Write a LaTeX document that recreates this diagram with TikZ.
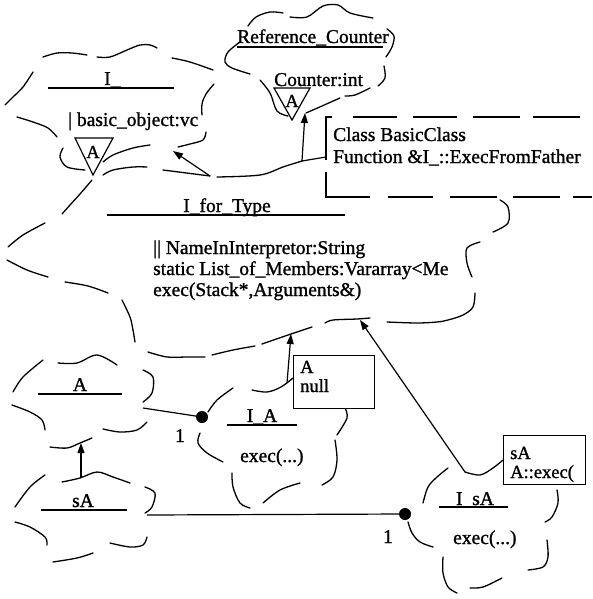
\documentclass[tikz,border=0pt]{standalone}
\usepackage{fontspec}
\setmainfont{Liberation Serif}[FakeBold=1.2]
\usetikzlibrary{arrows.meta}
% one wavy stroke of a class cloud
\newcommand\cseg[1]{\draw[cl] plot[smooth, tension=0.55] coordinates {#1};}
\begin{document}
\begin{tikzpicture}[x=1pt, y=-1pt,
  cl/.style={line width=1.3pt, line cap=round, line join=round},
  ul/.style={line width=1.1pt},
  nt/.style={line width=1.2pt},
  conn/.style={line width=1.2pt},
  arr/.style={line width=1.2pt, -{Triangle[length=10pt, width=7pt]}},
  lbl/.style={inner sep=0pt, font=\fontsize{19.5}{21}\selectfont},
  small/.style={inner sep=0pt, font=\fontsize{18.5}{20}\selectfont},
  tri/.style={line width=1.2pt, fill=white},
  boxst/.style={draw, line width=1.3pt, fill=white, inner sep=0pt},
  dot/.style={circle, fill=black, inner sep=0pt, minimum size=12pt}]
\useasboundingbox (0,0) rectangle (592,599);

% ---------- class I_ ----------
\cseg{(5,105) (13,97) (23,87) (33,72)}
\cseg{(43,57) (57,53) (72,53) (87,55)}
\cseg{(97,57) (110,57) (127,50) (140,45) (150,45) (157,48)}
\cseg{(172,58) (190,62) (213,70)}
\cseg{(214,84) (206,94) (202,104) (202,115)}
\cseg{(206,132) (203,140) (190,144) (178,147)}
\cseg{(150,145) (133,148) (113,155) (103,162)}
\cseg{(85,170) (67,167) (60,157) (63,148)}
\cseg{(57,137) (48,128) (33,122) (17,117)}
\draw[ul] (48,88) -- (174,88);
\node[lbl, anchor=base west] (iname) at (104,85) {I\_};
\node[lbl, anchor=base west] (iattr) at (68,126) {| basic\_object:vc};
\draw[tri] (75,138) -- (113,138) -- (93,175) -- cycle;
\node[small] (itri) at (93,152) {A};

% ---------- class Reference_Counter ----------
\cseg{(248,26) (256,17) (270,12) (283,13)}
\cseg{(290,17) (307,17) (323,6) (338,5) (350,13) (373,18)}
\cseg{(387,29) (394,36) (392,47) (386,57)}
\cseg{(384,66) (385,78) (378,86)}
\cseg{(370,88) (355,95) (345,96)}
\cseg{(340,98) (322,106) (306,113)}
\cseg{(240,42) (228,52) (225,62) (232,68) (250,74)}
\cseg{(260,80) (270,93) (277,111) (288,116)}
\draw[ul] (237,47) -- (383,47);
\node[lbl, anchor=base west] (rcname) at (237,43) {Reference\_Counter};
\node[lbl, anchor=base west] (rcattr) at (274,86) {Counter:int};
\draw[tri] (274,88) -- (310,88) -- (292,120) -- cycle;
\node[small] (rctri) at (292,101) {A};

% ---------- class I_for_Type ----------
\cseg{(103,175) (113,170) (133,167) (147,167)}
\cseg{(163,170) (210,176)}
\cseg{(217,177) (260,175) (283,167) (302,161)}
\cseg{(500,200) (508,207) (508,223) (493,232)}
\cseg{(480,242) (467,248) (467,263) (472,277)}
\cseg{(475,293) (473,307) (463,315) (448,320) (437,322) (417,323) (387,322)}
\cseg{(370,318) (357,319) (333,320) (325,323)}
\cseg{(312,327) (291,334) (262,344)}
\cseg{(255,346) (233,350) (212,355)}
\cseg{(205,357) (187,357) (167,357) (148,352)}
\cseg{(135,342) (133,330) (130,317) (122,300)}
\cseg{(108,293) (88,286) (65,282)}
\cseg{(48,277) (27,270) (7,260)}
\cseg{(8,247) (23,235) (45,223)}
\cseg{(62,214) (70,205) (80,194) (92,180)}
\draw[ul] (107,215) -- (345,215);
\node[lbl, anchor=base] (iftname) at (227,212) {I\_for\_Type};
\node[lbl, anchor=base west] (iftattr) at (153,254) {|| NameInInterpretor:String};
\node[lbl, anchor=base west] (iftmem) at (153,275) {static List\_of\_Members:Vararray<Me};
\node[lbl, anchor=base west] (iftop) at (153,296) {exec(Stack*,Arguments\&)};

% ---------- note on I_for_Type ----------
\draw[nt] (326,160) -- (326,117) -- (332,117);
\draw[nt] (353,117) -- (397,117);
\draw[nt] (413,117) -- (457,117);
\draw[nt] (473,117) -- (520,117);
\draw[nt] (533,117) -- (580,117);
\draw[nt] (326,172) -- (326,197) -- (370,197);
\draw[nt] (388,197) -- (433,197);
\draw[nt] (450,197) -- (497,197);
\draw[nt] (513,197) -- (560,197);
\draw[nt] (573,197) -- (592,197);
\node[lbl, anchor=base west] (note1) at (333,141) {Class BasicClass};
\node[lbl, anchor=base west] (note2) at (333,163) {Function \&I\_::ExecFromFather};
\coordinate (noteleft) at (326,157);

% ---------- class A ----------
\cseg{(13,392) (23,377) (43,360)}
\cseg{(58,363) (77,363) (97,355) (117,365)}
\cseg{(143,370) (153,377) (152,393) (143,402)}
\cseg{(147,422) (137,430) (120,432) (103,429)}
\cseg{(12,405) (30,412) (42,420) (45,430)}
\cseg{(50,447) (67,448) (80,443) (92,438)}
\draw[ul] (38,394) -- (122,394);
\node[lbl, anchor=base] (aname) at (80,391) {A};

% ---------- class sA ----------
\cseg{(15,507) (30,487) (45,475)}
\cseg{(62,482) (80,478) (97,472) (113,477) (130,483)}
\cseg{(145,487) (155,493) (152,507) (145,513)}
\cseg{(147,537) (143,545) (130,547) (110,543)}
\cseg{(93,553) (77,558) (53,562)}
\cseg{(15,522) (30,527) (45,537) (47,545)}
\draw[ul] (41,510) -- (127,510);
\node[lbl, anchor=base] (saname) at (83,507) {sA};

% ---------- class I_A ----------
\cseg{(208,412) (217,400) (233,388)}
\cseg{(252,390) (267,392) (281,387) (293,378)}
\cseg{(345,408) (347,418) (337,435)}
\cseg{(335,440) (337,460) (333,477) (322,485)}
\cseg{(300,483) (280,490) (263,503)}
\cseg{(250,508) (240,503) (233,487) (232,473)}
\cseg{(223,462) (207,453) (198,443) (200,433)}
\draw[ul] (227,425) -- (297,425);
\node[lbl, anchor=base] (ianame) at (262,422) {I\_A};
\node[lbl, anchor=base west] (iaop) at (240,462) {exec(...)};
\node[boxst, anchor=north west, minimum width=81pt, minimum height=53pt] (iabox) at (293,355) {};
\node[small, anchor=base west] (iabox1) at (300,373) {A};
\node[small, anchor=base west] (iabox2) at (300,392) {null};

% ---------- class I_sA ----------
\cseg{(408,522) (412,533) (420,542) (433,547)}
\cseg{(443,557) (443,573) (448,587) (457,593)}
\cseg{(470,588) (483,587) (502,578)}
\cseg{(528,570) (543,567) (548,557) (547,540)}
\cseg{(545,522) (552,517) (558,503) (557,490)}
\cseg{(423,503) (428,487) (437,477) (448,468)}
\cseg{(465,472) (480,475) (493,468) (503,460)}
\draw[ul] (439,507) -- (508,507);
\node[lbl, anchor=base] (isaname) at (475,505) {I\_sA};
\node[lbl, anchor=base west] (isaop) at (453,544) {exec(...)};
\node[boxst, anchor=north west, minimum width=82pt, minimum height=49pt] (isabox) at (503,435) {};
\node[small, anchor=base west] (isabox1) at (510,459) {sA};
\node[small, anchor=base west] (isabox2) at (510,478) {A::exec(};

% ---------- relations ----------
\coordinate (ift-topl) at (210,176);
\coordinate (i-bot) at (173,151);
\draw[arr] (ift-topl) -- (i-bot);

\coordinate (ift-topr) at (302,161);
\coordinate (rc-bot) at (305,113);
\draw[arr] (ift-topr) -- (rc-bot);
\draw[conn] (ift-topr) -- (noteleft);

\coordinate (ia-top) at (287,383);
\coordinate (ift-bot1) at (291,334);
\draw[arr] (ia-top) -- (ift-bot1);

\coordinate (isa-top) at (465,472);
\coordinate (ift-bot2) at (360,320);
\draw[arr] (isa-top) -- (ift-bot2);

\coordinate (sa-top) at (81,478);
\coordinate (a-bot) at (81,443);
\draw[arr] (sa-top) -- (a-bot);

\coordinate (a-right) at (143,408);
\node[dot] (dotia) at (202,417) {};
\draw[conn] (a-right) -- (dotia.center);
\node[lbl, anchor=base] (mult1) at (180,442) {1};

\coordinate (sa-right) at (147,515);
\node[dot] (dotisa) at (405,514) {};
\draw[conn] (sa-right) -- (dotisa.center);
\node[lbl, anchor=base] (mult2) at (388,543) {1};
\end{tikzpicture}
\end{document}
